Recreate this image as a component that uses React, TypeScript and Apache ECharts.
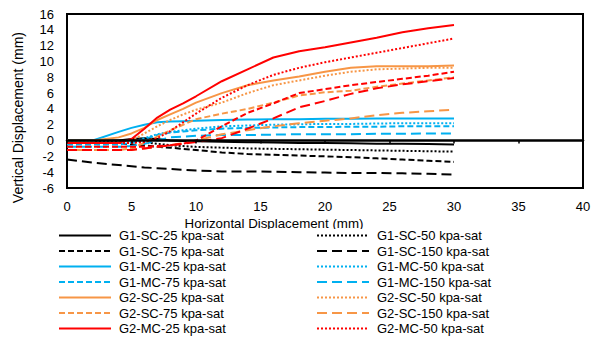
import React, { useEffect, useRef } from "react";
import * as echarts from "echarts";

const X = [0, 2, 4, 5, 6, 7, 8, 9, 10, 12, 14, 16, 18, 20, 22, 24, 26, 28, 30];

const G1_SC_25 = [0, 0, 0, 0.2, 0.3, 0.2, 0, -0.05, -0.1, -0.15, -0.2, -0.25, -0.3, -0.3, -0.35, -0.4, -0.4, -0.45, -0.5];
const G1_SC_50 = [-0.2, -0.2, -0.2, 0, -0.2, -0.4, -0.6, -0.7, -0.8, -0.9, -1.0, -1.05, -1.1, -1.15, -1.2, -1.25, -1.3, -1.35, -1.4];
const G1_SC_75 = [-0.3, -0.35, -0.4, -0.5, -0.6, -0.8, -0.9, -1.05, -1.2, -1.5, -1.7, -1.8, -1.9, -2.0, -2.1, -2.25, -2.4, -2.55, -2.7];
const G1_SC_150 = [-2.4, -2.8, -3.1, -3.25, -3.4, -3.5, -3.6, -3.7, -3.8, -3.9, -3.9, -3.95, -4.0, -4.05, -4.1, -4.1, -4.15, -4.2, -4.3];
const G1_MC_25 = [0, 0, 1.1, 1.6, 2.0, 2.3, 2.4, 2.45, 2.5, 2.6, 2.65, 2.7, 2.7, 2.75, 2.75, 2.8, 2.8, 2.8, 2.8];
const G1_MC_50 = [-0.3, -0.3, -0.3, -0.2, 0.3, 0.8, 1.1, 1.3, 1.5, 1.8, 1.9, 2.0, 2.05, 2.1, 2.1, 2.15, 2.2, 2.2, 2.2];
const G1_MC_75 = [-0.5, -0.5, -0.5, -0.3, 0.2, 0.7, 1.0, 1.15, 1.3, 1.5, 1.6, 1.65, 1.7, 1.7, 1.75, 1.75, 1.8, 1.8, 1.8];
const G1_MC_150 = [-0.8, -0.8, -0.8, -0.7, -0.4, 0.0, 0.4, 0.5, 0.6, 0.7, 0.7, 0.75, 0.8, 0.8, 0.8, 0.85, 0.85, 0.9, 0.9];
const G2_SC_25 = [0, 0, 0.4, 0.9, 1.6, 2.6, 3.3, 4.0, 4.8, 6.0, 7.0, 7.6, 8.1, 8.7, 9.2, 9.4, 9.4, 9.4, 9.5];
const G2_SC_50 = [-0.3, -0.3, -0.3, 0.0, 0.9, 1.8, 2.6, 3.3, 3.9, 4.8, 6.0, 7.0, 7.6, 8.2, 8.7, 9.0, 9.1, 9.2, 9.2];
const G2_SC_75 = [-1.2, -1.2, -1.2, -1.0, -0.3, 0.5, 1.3, 2.0, 2.7, 3.4, 4.0, 4.8, 5.7, 6.1, 6.3, 6.8, 7.2, 7.6, 8.0];
const G2_SC_150 = [-1.2, -1.2, -1.2, -1.2, -1.0, -0.8, -0.6, -0.3, 0.0, 0.8, 1.3, 1.8, 2.2, 2.5, 2.8, 3.2, 3.5, 3.7, 3.9];
const G2_MC_25 = [-0.3, -0.3, -0.3, 0.2, 1.5, 2.9, 3.9, 4.7, 5.6, 7.5, 9.0, 10.5, 11.3, 11.8, 12.4, 13.0, 13.7, 14.2, 14.6];
const G2_MC_50 = [-0.3, -0.3, -0.3, -0.3, -0.2, 0.3, 1.2, 2.3, 3.4, 5.4, 7.0, 8.3, 9.2, 9.9, 10.5, 11.1, 11.7, 12.3, 12.9];
const G2_MC_75 = [-0.8, -0.8, -0.8, -0.8, -0.8, -0.7, -0.6, -0.4, 0.0, 1.8, 3.5, 4.7, 6.0, 6.5, 7.0, 7.4, 7.8, 8.2, 8.7];
const G2_MC_150 = [-1.2, -1.2, -1.2, -1.2, -1.0, -0.8, -0.6, -0.4, -0.2, 0.3, 1.5, 2.8, 4.2, 5.0, 5.9, 6.6, 7.1, 7.5, 7.9];

const BLACK = "#000000";
const BLUE = "#00B0F0";
const ORANGE = "#F79646";
const RED = "#FF0000";

const SOLID: any = "solid";
const DOT = [2, 2];
const DASH = [6, 3];
const LONG = [10, 5];

const SERIES_DEF: [string, number[], string, any][] = [
  ["G1-SC-25 kpa-sat", G1_SC_25, BLACK, SOLID],
  ["G1-SC-50 kpa-sat", G1_SC_50, BLACK, DOT],
  ["G1-SC-75 kpa-sat", G1_SC_75, BLACK, DASH],
  ["G1-SC-150 kpa-sat", G1_SC_150, BLACK, LONG],
  ["G1-MC-25 kpa-sat", G1_MC_25, BLUE, SOLID],
  ["G1-MC-50 kpa-sat", G1_MC_50, BLUE, DOT],
  ["G1-MC-75 kpa-sat", G1_MC_75, BLUE, DASH],
  ["G1-MC-150 kpa-sat", G1_MC_150, BLUE, LONG],
  ["G2-SC-25 kpa-sat", G2_SC_25, ORANGE, SOLID],
  ["G2-SC-50 kpa-sat", G2_SC_50, ORANGE, DOT],
  ["G2-SC-75 kpa-sat", G2_SC_75, ORANGE, DASH],
  ["G2-SC-150 kpa-sat", G2_SC_150, ORANGE, LONG],
  ["G2-MC-25 kpa-sat", G2_MC_25, RED, SOLID],
  ["G2-MC-50 kpa-sat", G2_MC_50, RED, DOT],
  ["G2-MC-75 kpa-sat", G2_MC_75, RED, DASH],
  ["G2-MC-150 kpa-sat", G2_MC_150, RED, LONG],
];

const LEGEND_LEFT = [
  "G1-SC-25 kpa-sat", "G1-SC-75 kpa-sat", "G1-MC-25 kpa-sat", "G1-MC-75 kpa-sat",
  "G2-SC-25 kpa-sat", "G2-SC-75 kpa-sat", "G2-MC-25 kpa-sat",
];
const LEGEND_RIGHT = [
  "G1-SC-50 kpa-sat", "G1-SC-150 kpa-sat", "G1-MC-50 kpa-sat", "G1-MC-150 kpa-sat",
  "G2-SC-50 kpa-sat", "G2-SC-150 kpa-sat", "G2-MC-50 kpa-sat",
];

const FONT = "'Liberation Sans', Arial, sans-serif";

export default function App() {
  const ref = useRef<HTMLDivElement>(null);
  useEffect(() => {
    if (!ref.current) return;
    const chart = echarts.init(ref.current, null, { renderer: "svg" });
    const series = SERIES_DEF.map(([name, vals, color, type]) => ({
      name,
      type: "line",
      data: X.map((x, i) => [x, vals[i]]),
      symbol: "none",
      showSymbol: false,
      smooth: false,
      lineStyle: { color, width: 2, type, cap: "butt" },
      itemStyle: { color },
      emphasis: { disabled: true },
      z: 3,
    }));
    const legendCommon = {
      orient: "vertical",
      itemWidth: 52,
      itemHeight: 14,
      itemGap: 2.5,
      padding: 0,
      selectedMode: false,
      itemStyle: { opacity: 0 },
      textStyle: { fontFamily: FONT, fontSize: 13, color: "#000", padding: [0, 0, 0, 3] },
    };
    chart.setOption({
      animation: false,
      backgroundColor: "#fff",
      textStyle: { fontFamily: FONT },
      grid: {
        left: 67,
        right: 12,
        top: 14,
        bottom: 157,
        show: true,
        borderColor: "#000",
        borderWidth: 2,
        backgroundColor: "transparent",
        outerBoundsMode: "none",
      },
      xAxis: [
        {
          type: "value",
          min: 0,
          max: 40,
          interval: 5,
          position: "bottom",
          axisLine: { show: false, onZero: false },
          axisTick: { show: false },
          splitLine: { show: false },
          axisLabel: { fontFamily: FONT, fontSize: 13, color: "#000", margin: 12 },
        },
        {
          type: "value",
          min: 0,
          max: 40,
          interval: 5,
          position: "bottom",
          axisLine: { show: true, onZero: true, lineStyle: { color: "#000", width: 2.5 } },
          axisTick: { show: true, length: 3, lineStyle: { color: "#000", width: 1.5 } },
          splitLine: { show: false },
          axisLabel: { show: false },
          z: 4,
        },
      ],
      yAxis: {
        type: "value",
        min: -6,
        max: 16,
        interval: 2,
        axisLine: { show: false, onZero: false },
        axisTick: { show: false },
        splitLine: { show: false },
        axisLabel: { fontFamily: FONT, fontSize: 13, color: "#000", margin: 13 },
      },
      legend: [
        { ...legendCommon, data: LEGEND_LEFT, left: 58, top: 229 },
        { ...legendCommon, data: LEGEND_RIGHT, left: 316, top: 229 },
      ],
      graphic: [
        {
          type: "text",
          x: 274,
          y: 223,
          z: 1,
          style: {
            text: "Horizontal Displacement (mm)",
            fontFamily: FONT,
            fontSize: 13.3,
            fill: "#000",
            textAlign: "center",
            textVerticalAlign: "middle",
          },
        },
        {
          type: "rect",
          z: 2,
          shape: { x: 50, y: 229, width: 520, height: 4 },
          style: { fill: "#fff" },
        },
        {
          type: "text",
          left: 11,
          top: 32,
          rotation: Math.PI / 2,
          z: 1,
          style: {
            text: "Vertical Displacement (mm)",
            fontFamily: FONT,
            fontSize: 14,
            fill: "#000",
          },
        },
      ],
      series,
    });
    return () => chart.dispose();
  }, []);
  return <div ref={ref} style={{ width: 595, height: 345, position: "absolute", left: 0, top: 0 }} />;
}
